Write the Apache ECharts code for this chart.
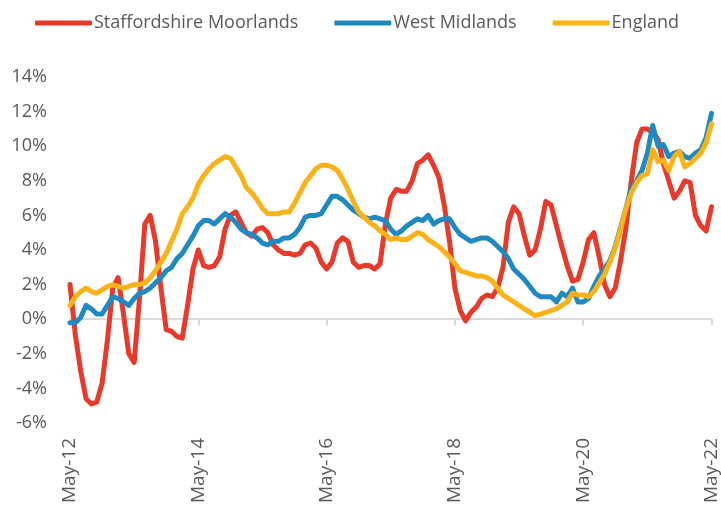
<!DOCTYPE html>
<html>
<head>
<meta charset="utf-8">
<script src="https://cdn.jsdelivr.net/npm/echarts@6/dist/echarts.min.js"></script>
<style>
  html, body { margin: 0; padding: 0; background: #fff; }
  #main { width: 721px; height: 513px; }
</style>
</head>
<body>
<div id="main"></div>
<script>
// 月份 May-12 .. May-22
const monthNames = ['Jan', 'Feb', 'Mar', 'Apr', 'May', 'Jun', 'Jul', 'Aug', 'Sep', 'Oct', 'Nov', 'Dec']
const months = []
for (let i = 0; i <= 120; i++) {
  const m = (4 + i) % 12
  const y = 12 + Math.floor((4 + i) / 12)
  months.push(monthNames[m] + '-' + y)
}

const seriesNames = ['Staffordshire Moorlands', 'West Midlands', 'England']
const seriesColors = ['#e8392b', '#1f89c2', '#fbb217']

const staffordshire = [
  2.0, -0.9, -3.0, -4.6, -4.9, -4.8, -3.7, -1.2, 1.8, 2.4,
  0.3, -2.0, -2.5, 1.2, 5.5, 6.0, 4.5, 1.8, -0.6, -0.7,
  -1.0, -1.1, 0.8, 2.9, 4.0, 3.1, 3.0, 3.1, 3.6, 5.2,
  6.0, 6.2, 5.6, 5.0, 4.8, 5.2, 5.3, 5.0, 4.3, 4.0,
  3.8, 3.8, 3.7, 3.8, 4.3, 4.4, 4.1, 3.3, 2.9, 3.3,
  4.4, 4.7, 4.5, 3.3, 3.0, 3.1, 3.1, 2.9, 3.2, 5.5,
  7.0, 7.5, 7.4, 7.4, 8.0, 9.0, 9.2, 9.5, 8.9, 8.2,
  6.6, 4.5, 1.8, 0.5, -0.1, 0.4, 0.7, 1.2, 1.4, 1.3,
  1.8, 3.0, 5.6, 6.5, 6.1, 4.8, 3.7, 4.0, 5.2, 6.8,
  6.6, 5.4, 4.2, 3.1, 2.2, 2.3, 3.3, 4.6, 5.0, 3.6,
  2.0, 1.3, 1.8, 3.4, 5.3, 8.0, 10.2, 11.0, 11.0, 10.8,
  10.4, 9.0, 8.0, 7.0, 7.4, 8.0, 7.9, 6.0, 5.4, 5.1,
  6.5
]

const westMidlands = [
  -0.2, -0.2, 0.1, 0.8, 0.6, 0.3, 0.3, 0.8, 1.3, 1.2,
  1.0, 0.8, 1.2, 1.5, 1.6, 1.8, 2.1, 2.4, 2.8, 3.0,
  3.5, 3.8, 4.3, 4.8, 5.4, 5.7, 5.7, 5.5, 5.8, 6.1,
  5.9, 5.6, 5.2, 5.0, 4.9, 4.7, 4.4, 4.3, 4.5, 4.5,
  4.7, 4.7, 4.9, 5.3, 5.9, 6.0, 6.0, 6.1, 6.6, 7.1,
  7.1, 6.9, 6.6, 6.3, 6.1, 5.9, 5.8, 5.9, 5.8, 5.7,
  5.2, 4.9, 5.1, 5.4, 5.6, 5.8, 5.7, 6.0, 5.5, 5.7,
  5.8, 5.8, 5.3, 4.9, 4.7, 4.5, 4.6, 4.7, 4.7, 4.5,
  4.2, 3.9, 3.5, 2.9, 2.6, 2.3, 1.9, 1.5, 1.3, 1.3,
  1.3, 1.0, 1.5, 1.3, 1.8, 1.0, 1.0, 1.2, 1.9, 2.5,
  2.9, 3.4, 4.2, 5.3, 6.4, 7.6, 8.0, 8.6, 9.6, 11.2,
  10.0, 10.1, 9.4, 9.6, 9.7, 9.4, 9.3, 9.6, 9.8, 10.5,
  11.9
]

const england = [
  0.8, 1.3, 1.6, 1.8, 1.6, 1.5, 1.7, 1.9, 2.0, 1.9,
  1.8, 1.9, 2.0, 2.0, 2.1, 2.4, 2.8, 3.3, 3.8, 4.5,
  5.2, 6.1, 6.5, 7.0, 7.8, 8.3, 8.7, 9.0, 9.2, 9.4,
  9.3, 8.8, 8.3, 7.6, 7.3, 6.9, 6.4, 6.1, 6.1, 6.1,
  6.2, 6.2, 6.7, 7.3, 7.9, 8.3, 8.7, 8.9, 8.9, 8.8,
  8.6, 8.1, 7.5, 6.8, 6.2, 5.9, 5.6, 5.4, 5.1, 4.9,
  4.6, 4.7, 4.6, 4.6, 4.8, 5.0, 4.9, 4.6, 4.4, 4.2,
  3.9, 3.6, 3.2, 2.8, 2.7, 2.6, 2.5, 2.5, 2.4, 2.2,
  1.8, 1.4, 1.2, 1.0, 0.8, 0.6, 0.4, 0.2, 0.3, 0.4,
  0.5, 0.6, 0.8, 1.0, 1.5, 1.4, 1.4, 1.3, 1.6, 2.1,
  2.6, 3.3, 4.1, 5.2, 6.4, 7.3, 7.9, 8.3, 8.4, 9.8,
  9.1, 9.2, 8.6, 9.4, 9.7, 8.8, 9.0, 9.3, 9.6, 10.2,
  11.3
]

const values = [staffordshire, westMidlands, england]
const textColor = '#595959'
const font = 'Open Sans'

const series = values.map((v, i) => ({
  name: seriesNames[i],
  type: 'line',
  xAxisIndex: 0,
  symbol: 'none',
  smooth: false,
  lineStyle: { width: 5, color: seriesColors[i], cap: 'round', join: 'round' },
  itemStyle: { color: seriesColors[i] },
  data: v
}))

const option = {
  animation: false,
  legend: {
    left: 30,
    top: 9,
    icon: 'roundRect',
    itemWidth: 57,
    itemHeight: 5,
    itemGap: 36,
    textStyle: { color: textColor, fontSize: 18, fontFamily: font, padding: [0, 0, 0, -3] },
    data: seriesNames
  },
  grid: { left: 70, right: 9, top: 77, bottom: 90, containLabel: false },
  xAxis: [{
    type: 'category',
    boundaryGap: false,
    data: months,
    axisLine: { onZero: true, lineStyle: { color: '#d9d9d9', width: 2 } },
    axisTick: { show: true, interval: 23, length: 6, lineStyle: { color: '#d9d9d9', width: 2 } },
    axisLabel: { show: false }
  }, {
    type: 'category',
    position: 'bottom',
    boundaryGap: false,
    data: months,
    axisLine: { show: false, onZero: false },
    axisTick: { show: false },
    axisLabel: { interval: 23, rotate: 90, margin: 15, color: textColor, fontSize: 19, fontFamily: font }
  }],
  yAxis: {
    type: 'value',
    min: -6,
    max: 14,
    interval: 2,
    axisLine: { show: false },
    axisTick: { show: false },
    splitLine: { show: false },
    axisLabel: { formatter: '{value}%', margin: 23, color: textColor, fontSize: 18, fontFamily: font }
  },
  series
}

const chart = echarts.init(document.getElementById('main'))
chart.setOption(option, true)
</script>
</body>
</html>
